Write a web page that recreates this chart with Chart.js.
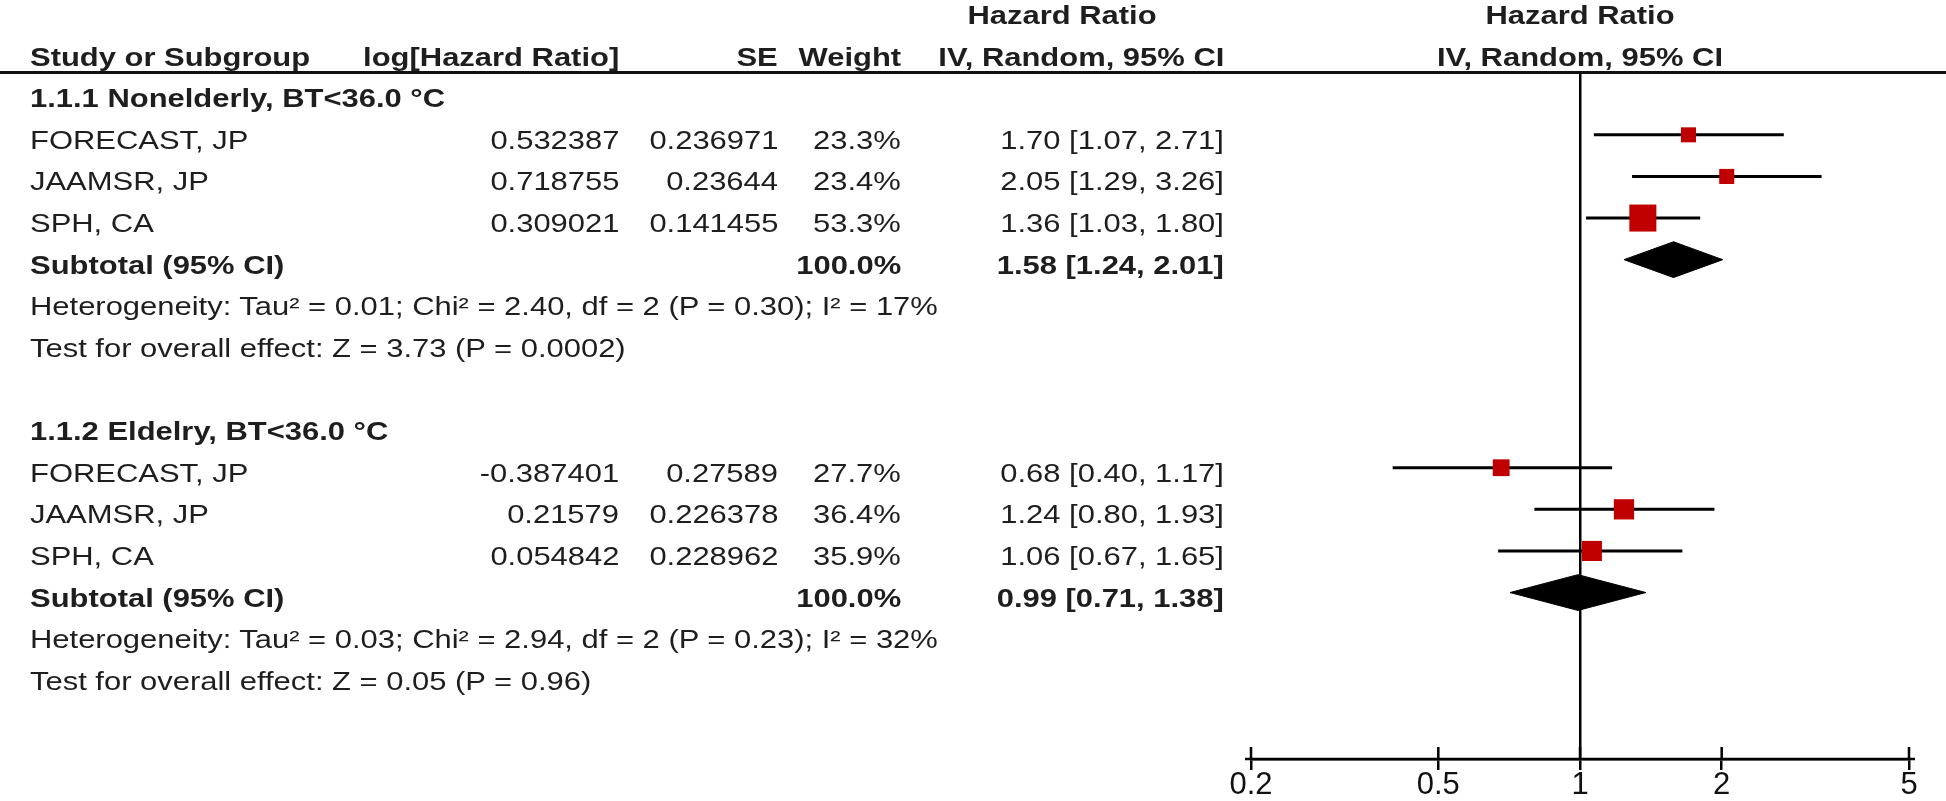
<!DOCTYPE html>
<html>
<head>
<meta charset="utf-8">
<script src="https://cdn.jsdelivr.net/npm/chart.js@4.4.1/dist/chart.umd.min.js"></script>
<style>
  html, body { margin: 0; padding: 0; background: #fff; }
  #wrap { position: relative; width: 1946px; height: 801px; overflow: hidden; }
  #forest { position: absolute; left: 0; top: 0; }
  #rule { position: absolute; left: 0; top: 71px; width: 1946px; height: 3px; background: #111; }
  .txt {
    position: absolute; white-space: nowrap;
    font-family: "Liberation Sans", Arial, sans-serif;
    font-size: 26px; line-height: 30px; color: #1e1e1e;
    transform: scaleX(1.19);
  }
  .b { font-weight: bold; }
  .l { transform-origin: left center; }
  .r { transform-origin: right center; text-align: right; }
  .c { transform-origin: center center; text-align: center; width: 600px; }
</style>
</head>
<body>
<div id="wrap">
  <canvas id="forest" width="1946" height="801"></canvas>
  <div id="rule"></div>
</div>
<script>
// Data
const groupTitles = ['1.1.1 Nonelderly, BT<36.0 °C', '1.1.2 Eldelry, BT<36.0 °C'];
const studyGroup = [0, 0, 0, 1, 1, 1];
const studyNames = ['FORECAST, JP', 'JAAMSR, JP', 'SPH, CA', 'FORECAST, JP', 'JAAMSR, JP', 'SPH, CA'];
const logHR = ['0.532387', '0.718755', '0.309021', '-0.387401', '0.21579', '0.054842'];
const stdErr = ['0.236971', '0.23644', '0.141455', '0.27589', '0.226378', '0.228962'];
const weights = [23.3, 23.4, 53.3, 27.7, 36.4, 35.9];
const hr = [1.70, 2.05, 1.36, 0.68, 1.24, 1.06];
const ciLow = [1.07, 1.29, 1.03, 0.40, 0.80, 0.67];
const ciHigh = [2.71, 3.26, 1.80, 1.17, 1.93, 1.65];
const subtotalHR = [1.58, 0.99];
const subtotalLow = [1.24, 0.71];
const subtotalHigh = [2.01, 1.38];
const heterogeneity = [
    'Heterogeneity: Tau² = 0.01; Chi² = 2.40, df = 2 (P = 0.30); I² = 17%',
    'Heterogeneity: Tau² = 0.03; Chi² = 2.94, df = 2 (P = 0.23); I² = 32%'
];
const overallEffect = [
    'Test for overall effect: Z = 3.73 (P = 0.0002)',
    'Test for overall effect: Z = 0.05 (P = 0.96)'
];
const xTicks = [0.2, 0.5, 1, 2, 5];

// Layout constants
const DIAMOND_HALF = 0.43;   // half height of the subtotal diamond, in rows
const COL_NAME = 30;
const COL_LOG = 619;
const COL_SE = 778;
const COL_WT = 901;
const COL_CI = 1224;
const COL_HR_HEAD = 1062;

function fmtCI(v, lo, hi) {
    return v.toFixed(2) + ' [' + lo.toFixed(2) + ', ' + hi.toFixed(2) + ']';
}

// Work out which row each line of the table sits on
const titleRow = [], studyRow = [], subtotalRow = [], hetRow = [], testRow = [];
let row = 0;
groupTitles.forEach((t, g) => {
    titleRow.push(row++);
    studyGroup.forEach((sg, i) => { if (sg === g) studyRow[i] = row++; });
    subtotalRow.push(row++);
    hetRow.push(row++);
    testRow.push(row++);
    row++; // blank line
});
const lastRow = row;

// Confidence interval whiskers, broken with null points
const ciData = [];
hr.forEach((v, i) => {
    ciData.push({ x: ciLow[i], y: studyRow[i] }, { x: ciHigh[i], y: studyRow[i] }, { x: ciHigh[i], y: null });
});

const diamondSets = subtotalHR.map((v, g) => ({
    type: 'line',
    data: [
        { x: subtotalLow[g], y: subtotalRow[g] },
        { x: v, y: subtotalRow[g] - DIAMOND_HALF },
        { x: subtotalHigh[g], y: subtotalRow[g] },
        { x: v, y: subtotalRow[g] + DIAMOND_HALF },
        { x: subtotalLow[g], y: subtotalRow[g] }
    ],
    borderColor: '#000',
    backgroundColor: '#000',
    borderWidth: 1,
    fill: 'shape',
    pointRadius: 0,
    tension: 0,
    order: 1
}));

// Axis line and the upper half of the tick marks
const tickCross = {
    id: 'tickCross',
    afterDatasetsDraw(chart) {
        const { ctx, chartArea } = chart;
        const x = chart.scales.x;
        ctx.save();
        ctx.strokeStyle = '#000';
        ctx.lineWidth = 2.5;
        ctx.beginPath();
        ctx.moveTo(chartArea.left - 6, chartArea.bottom);
        ctx.lineTo(chartArea.right + 6, chartArea.bottom);
        x.ticks.forEach(t => {
            const px = x.getPixelForValue(t.value);
            ctx.moveTo(px, chartArea.bottom - 12);
            ctx.lineTo(px, chartArea.bottom);
        });
        ctx.stroke();
        ctx.restore();
    }
};

const chart = new Chart(document.getElementById('forest'), {
    type: 'scatter',
    data: {
        datasets: [
            {
                type: 'line',
                data: ciData,
                borderColor: '#000',
                borderWidth: 3,
                pointRadius: 0,
                spanGaps: false,
                fill: false,
                order: 2
            },
            ...diamondSets,
            {
                type: 'scatter',
                data: hr.map((v, i) => ({ x: v, y: studyRow[i] })),
                pointStyle: 'rect',
                pointRadius: ctx => (5.7 + 0.4 * weights[ctx.dataIndex]) / Math.SQRT2,
                backgroundColor: '#c00000',
                borderColor: '#c00000',
                borderWidth: 0,
                order: 0
            }
        ]
    },
    options: {
        responsive: false,
        animation: false,
        events: [],
        layout: { padding: { left: 1251, right: 37, top: 72, bottom: 0 } },
        plugins: {
            legend: { display: false },
            tooltip: { enabled: false }
        },
        scales: {
            x: {
                type: 'logarithmic',
                min: 0.2,
                max: 5,
                afterBuildTicks: s => { s.ticks = xTicks.map(v => ({ value: v })); },
                afterFit: s => { s.height = 42; },
                ticks: {
                    autoSkip: false,
                    maxRotation: 0,
                    padding: -3,
                    color: '#111',
                    font: { family: 'Liberation Sans', size: 31 },
                    callback: v => String(v)
                },
                grid: {
                    color: c => (c.tick && c.tick.value === 1) ? '#000' : 'rgba(0,0,0,0)',
                    lineWidth: 2.5,
                    tickColor: '#000',
                    tickLength: 11,
                    tickWidth: 2.5
                },
                border: { display: true, color: '#000', width: 2.5 }
            },
            y: { display: false, reverse: true, min: -0.51, max: lastRow }
        }
    },
    plugins: [tickCross]
});

// Table text, placed on the same rows as the plot
const wrap = document.getElementById('wrap');
const yScale = chart.scales.y;
function addText(str, x, r, align, bold) {
    const d = document.createElement('div');
    d.className = 'txt ' + align + (bold ? ' b' : '');
    d.textContent = str;
    const cy = yScale.getPixelForValue(r) + 5;
    d.style.top = (cy - 15) + 'px';
    if (align === 'r') d.style.right = (1946 - x) + 'px';
    else if (align === 'c') d.style.left = (x - 300) + 'px';
    else d.style.left = x + 'px';
    wrap.appendChild(d);
}

const plotCenter = chart.scales.x.getPixelForValue(1);
addText('Hazard Ratio', COL_HR_HEAD, -2, 'c', true);
addText('Hazard Ratio', plotCenter, -2, 'c', true);
addText('Study or Subgroup', COL_NAME, -1, 'l', true);
addText('log[Hazard Ratio]', COL_LOG, -1, 'r', true);
addText('SE', COL_SE, -1, 'r', true);
addText('Weight', COL_WT, -1, 'r', true);
addText('IV, Random, 95% CI', COL_CI, -1, 'r', true);
addText('IV, Random, 95% CI', plotCenter, -1, 'c', true);

groupTitles.forEach((t, g) => {
    addText(t, COL_NAME, titleRow[g], 'l', true);
    addText('Subtotal (95% CI)', COL_NAME, subtotalRow[g], 'l', true);
    addText('100.0%', COL_WT, subtotalRow[g], 'r', true);
    addText(fmtCI(subtotalHR[g], subtotalLow[g], subtotalHigh[g]), COL_CI, subtotalRow[g], 'r', true);
    addText(heterogeneity[g], COL_NAME, hetRow[g], 'l', false);
    addText(overallEffect[g], COL_NAME, testRow[g], 'l', false);
});

studyNames.forEach((n, i) => {
    const r = studyRow[i];
    addText(n, COL_NAME, r, 'l', false);
    addText(logHR[i], COL_LOG, r, 'r', false);
    addText(stdErr[i], COL_SE, r, 'r', false);
    addText(weights[i].toFixed(1) + '%', COL_WT, r, 'r', false);
    addText(fmtCI(hr[i], ciLow[i], ciHigh[i]), COL_CI, r, 'r', false);
});
</script>
</body>
</html>
